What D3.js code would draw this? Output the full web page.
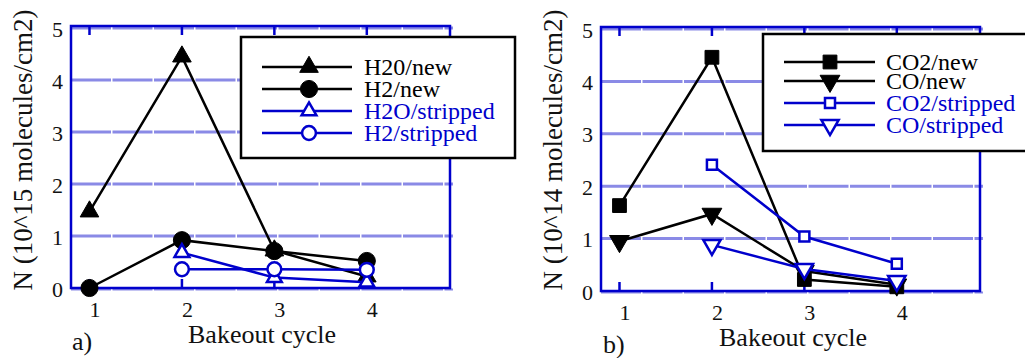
<!DOCTYPE html>
<html><head><meta charset="utf-8">
<script src="https://cdn.jsdelivr.net/npm/d3@7"></script>
<style>body{margin:0;background:#fff}svg{display:block}</style>
</head><body>
<svg id="c" width="1025" height="358"></svg>
<script>
const cycles = [1, 2, 3, 4];
const xTicks = [1, 2, 3, 4];
const yTicks = [0, 1, 2, 3, 4, 5];

// panel a
const h2oNew = [1.47, 4.45, 0.72, 0.22];
const h2New = [0, 0.92, 0.71, 0.52];
const h2oStrippedX = [2, 3, 4];
const h2oStripped = [0.68, 0.2, 0.11];
const h2StrippedX = [2, 3, 4];
const h2Stripped = [0.36, 0.36, 0.35];

// panel b
const co2New = [1.63, 4.46, 0.22, 0.08];
const coNew = [0.95, 1.47, 0.38, 0.12];
const co2StrippedX = [2, 3, 4];
const co2Stripped = [2.41, 1.04, 0.52];
const coStrippedX = [2, 3, 4];
const coStripped = [0.88, 0.42, 0.19];

const FONT = "'Liberation Serif', 'Times New Roman', Times, 'DejaVu Serif', serif";
const svg = d3.select("#c").style("font-family", FONT);
const BLUE = "#0000cc";
const GRID = "#8a8ae6";

function txt(sel, size, color) {
  return sel.style("font-family", FONT).style("font-size", size + "px").attr("fill", color);
}

function panel(cfg) {
  const x = d3.scaleLinear().domain([0.8, 4.9]).range([cfg.left, cfg.right]);
  const y = d3.scaleLinear().domain([0, 5]).range([cfg.bottom, cfg.top]);
  const g = svg.append("g");
  g.append("g").selectAll("line").data(yTicks.filter(d => d > 0)).join("line")
    .attr("x1", cfg.left).attr("x2", cfg.right + 3)
    .attr("y1", d => y(d)).attr("y2", d => y(d))
    .attr("stroke", GRID).attr("stroke-width", 3).attr("stroke-dasharray", "40,1.5");
  g.append("line").attr("x1", cfg.left).attr("x2", cfg.right + 3)
    .attr("y1", y(0) + 1.5).attr("y2", y(0) + 1.5)
    .attr("stroke", GRID).attr("stroke-width", 2).attr("stroke-dasharray", "40,1.5");
  g.append("rect").attr("x", cfg.left).attr("y", y(5) - 2).attr("width", cfg.right - cfg.left)
    .attr("height", y(0) - y(5) + 2).attr("fill", "none").attr("stroke", BLUE).attr("stroke-width", 2.5);
  const tickG = g.append("g");
  tickG.selectAll("line.t").data(xTicks).join("line").attr("class", "t")
    .attr("x1", d => x(d)).attr("x2", d => x(d)).attr("y1", y(5) - 2).attr("y2", y(5) + 7)
    .attr("stroke", BLUE).attr("stroke-width", 2.5);
  tickG.selectAll("line.b").data(xTicks).join("line").attr("class", "b")
    .attr("x1", d => x(d)).attr("x2", d => x(d)).attr("y1", y(0)).attr("y2", y(0) - 9)
    .attr("stroke", BLUE).attr("stroke-width", 2.5);
  const xa = g.append("g").attr("transform", `translate(5,${y(0)})`)
    .call(d3.axisBottom(x).tickValues(xTicks).tickFormat(d3.format("d")).tickSize(0).tickPadding(13));
  xa.attr("font-family", null).attr("font-size", null);
  xa.select(".domain").remove();
  txt(xa.selectAll("text"), 22, "#111");
  const ya = g.append("g").attr("transform", `translate(${cfg.left - 8},1)`)
    .call(d3.axisLeft(y).tickValues(yTicks).tickFormat(d3.format("d")).tickSize(0).tickPadding(0));
  ya.attr("font-family", null).attr("font-size", null);
  ya.select(".domain").remove();
  txt(ya.selectAll("text"), 22, "#111");
  txt(g.append("text").attr("transform", `translate(${cfg.ytx},150) rotate(-90)`)
    .attr("text-anchor", "middle"), 27, "#111").text(cfg.ytitle);
  txt(g.append("text").attr("x", cfg.xtx).attr("y", cfg.xty).attr("text-anchor", "middle"), 26, "#111").text("Bakeout cycle");
  txt(g.append("text").attr("x", cfg.labx).attr("y", cfg.laby), 26, "#111").text(cfg.lab);
  return {x, y, g};
}

function sym(type, size) {
  return d3.symbol().type(type).size(size)();
}
const triDown = {draw(ctx, size) { const s = Math.sqrt(size / 0.4330127); const h = s * Math.sqrt(3) / 2;
  ctx.moveTo(-s / 2, -h / 3); ctx.lineTo(s / 2, -h / 3); ctx.lineTo(0, 2 * h / 3); ctx.closePath(); }};

function series(p, xs, ys, color, type, size, filled) {
  const pts = xs.map((d, i) => [d, ys[i]]);
  p.g.append("path").datum(pts).attr("fill", "none").attr("stroke", color).attr("stroke-width", 2.5)
    .attr("d", d3.line().x(d => p.x(d[0])).y(d => p.y(d[1])));
  p.g.append("g").selectAll("path").data(pts).join("path")
    .attr("transform", d => `translate(${p.x(d[0])},${p.y(d[1])})`)
    .attr("d", sym(type, size))
    .attr("fill", filled ? color : "#fff").attr("stroke", color).attr("stroke-width", filled ? 1 : 2.5);
}

function legend(items, bx, by, bw, bh, lx1, lx2, mx, tx, rows, fs) {
  const g = svg.append("g");
  g.append("rect").attr("x", bx).attr("y", by).attr("width", bw).attr("height", bh)
    .attr("fill", "#fff").attr("stroke", "#000").attr("stroke-width", 2.5);
  items.forEach((it, i) => {
    const yy = rows[i];
    g.append("line").attr("x1", lx1).attr("x2", lx2).attr("y1", yy).attr("y2", yy)
      .attr("stroke", it.color).attr("stroke-width", 2.5);
    g.append("path").attr("transform", `translate(${mx},${yy})`).attr("d", sym(it.type, it.size))
      .attr("fill", it.filled ? it.color : "#fff").attr("stroke", it.color).attr("stroke-width", it.filled ? 1 : 2.5);
    txt(g.append("text").attr("x", tx).attr("y", yy + 8), fs, it.color).text(it.label);
  });
}

// Panel a
const pa = panel({left: 71, right: 450, top: 28, bottom: 288, ytx: 32,
  ytitle: "N (10^15 molecules/cm2)", xtx: 262, xty: 343, labx: 72, laby: 350, lab: "a)"});
series(pa, cycles, h2oNew, "#000", d3.symbolTriangle, 150, true);
series(pa, cycles, h2New, "#000", d3.symbolCircle, 230, true);
series(pa, h2oStrippedX, h2oStripped, BLUE, d3.symbolTriangle, 95, false);
series(pa, h2StrippedX, h2Stripped, BLUE, d3.symbolCircle, 150, false);
legend([
  {label: "H20/new", color: "#000", type: d3.symbolTriangle, size: 150, filled: true},
  {label: "H2/new", color: "#000", type: d3.symbolCircle, size: 230, filled: true},
  {label: "H2O/stripped", color: BLUE, type: d3.symbolTriangle, size: 95, filled: false},
  {label: "H2/stripped", color: BLUE, type: d3.symbolCircle, size: 150, filled: false}
], 241, 37, 274, 121, 262, 352, 309, 364, [67, 89, 111, 133], 24);

// Panel b
const pb = panel({left: 601, right: 980, top: 29, bottom: 291, ytx: 562,
  ytitle: "N (10^14 molecules/cm2)", xtx: 793, xty: 346, labx: 603, laby: 353, lab: "b)"});
series(pb, cycles, co2New, "#000", d3.symbolSquare, 190, true);
series(pb, cycles, coNew, "#000", triDown, 170, true);
series(pb, co2StrippedX, co2Stripped, BLUE, d3.symbolSquare, 100, false);
series(pb, coStrippedX, coStripped, BLUE, triDown, 130, false);
legend([
  {label: "CO2/new", color: "#000", type: d3.symbolSquare, size: 190, filled: true},
  {label: "CO/new", color: "#000", type: triDown, size: 170, filled: true},
  {label: "CO2/stripped", color: BLUE, type: d3.symbolSquare, size: 100, filled: false},
  {label: "CO/stripped", color: BLUE, type: triDown, size: 130, filled: false}
], 763, 34, 270, 117, 784, 875, 830, 886, [62, 81, 103, 125], 24);
</script>
</body></html>
